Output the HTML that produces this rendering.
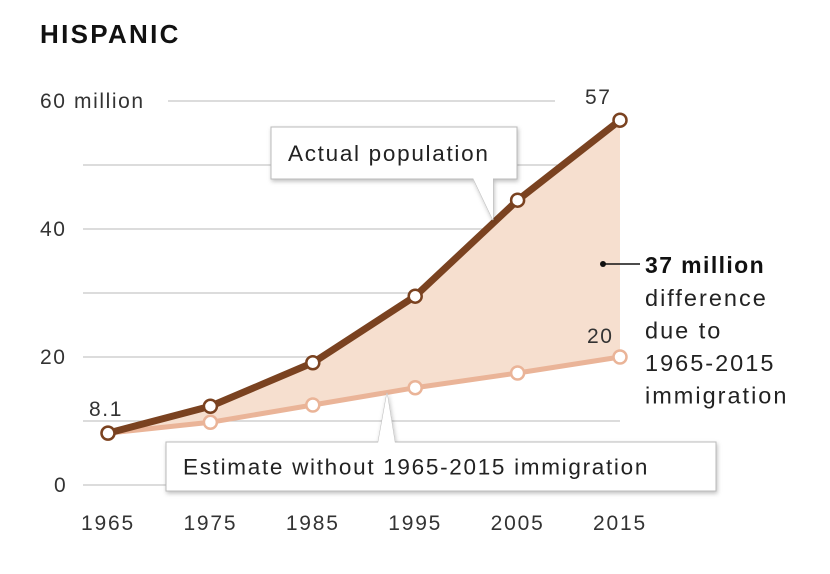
<!DOCTYPE html>
<html><head><meta charset="utf-8"><style>
body{margin:0;background:#fff;}
svg{display:block;font-family:"Liberation Sans",sans-serif;}
</style></head><body>
<svg id="chart" width="830" height="574" viewBox="0 0 830 574">
<defs><filter id="sh" x="-5%" y="-20%" width="110%" height="150%"><feDropShadow dx="1" dy="2" stdDeviation="2" flood-color="#000" flood-opacity="0.25"/></filter></defs>
<text x="40" y="43" font-size="26" font-weight="bold" letter-spacing="2.3" fill="#111">HISPANIC</text>
<g id="grid"></g>
<g id="area"></g>
<g id="lines"></g>
<g id="labels"></g>
</svg>
<script>
const years = [1965, 1975, 1985, 1995, 2005, 2015];
const actual = [8.1, 12.3, 19.1, 29.5, 44.5, 57];
const estimate = [8.1, 9.8, 12.5, 15.2, 17.5, 20];
const yTicks = [0, 10, 20, 30, 40, 50, 60];
const yTickLabels = ["0", "", "20", "", "40", "", "60 million"];
const NS = "http://www.w3.org/2000/svg";
const x = i => 108 + (620 - 108) * i / (years.length - 1);
const y = v => 485 - v * 6.4;
function mk(tag, attrs, parent, txt) {
  const e = document.createElementNS(NS, tag);
  for (const k in attrs) e.setAttribute(k, attrs[k]);
  if (txt !== undefined) e.textContent = txt;
  parent.appendChild(e); return e;
}
const grid = document.getElementById('grid');
yTicks.forEach((t, i) => {
  const x0 = t === 60 ? 168 : 83, x1 = t === 60 ? 555 : 620;
  const l = mk('line', {x1: x0, x2: x1, y1: y(t), y2: y(t), stroke: '#c8c8c8', 'stroke-width': 1.3}, grid);
  
  
  if (yTickLabels[i]) {
    const tx = mk('text', {x: t === 0 ? 54 : 40, y: y(t) + 7, 'font-size': 21, 'letter-spacing': 1.6, fill: '#333'}, grid, yTickLabels[i]);
    
    
  }
});
years.forEach((yr, i) => {
  const tx = mk('text', {x: x(i), y: 530, 'font-size': 21, 'letter-spacing': 1.8, fill: '#333', 'text-anchor': 'middle'}, grid, yr);
  
  
});
let d = actual.map((v, i) => (i ? 'L' : 'M') + x(i) + ',' + y(v)).join('');
for (let i = estimate.length - 1; i >= 0; i--) d += 'L' + x(i) + ',' + y(estimate[i]);
const ar = mk('path', {d: d + 'Z', fill: '#f6dfcf'}, document.getElementById('area'));


const lg = document.getElementById('lines');
function series(vals, color, w, name) {
  const p = mk('polyline', {points: vals.map((v, i) => x(i) + ',' + y(v)).join(' '), fill: 'none', stroke: color, 'stroke-width': w, 'stroke-linejoin': 'round'}, lg);
  
  
  vals.forEach((v, i) => {
    const c = mk('circle', {cx: x(i), cy: y(v), r: 6.5, fill: '#fff', stroke: color, 'stroke-width': 2.5}, lg);
    
    
  });
}
series(estimate, '#eab498', 5, 'estimate');
series(actual, '#7a4220', 7, 'actual');
const lb = document.getElementById('labels');
function txt(s, a, name) {
  const t = mk('text', Object.assign({'font-size': 21, 'letter-spacing': 1.6, fill: '#333'}, a), lb, s);
  
  
  return t;
}
txt('8.1', {x: 89, y: 416}, 'start-value-label');
txt(String(actual[actual.length - 1]), {x: 585, y: 104}, 'actual-end-label');
txt(String(estimate[estimate.length - 1]), {x: 587, y: 343}, 'estimate-end-label');
function callout(bx, by, bw, bh, tail, label, name) {
  const g = mk('g', {filter: 'url(#sh)'}, lb);
  
  
  mk('polygon', {points: tail, fill: '#fff', stroke: '#bbb', 'stroke-width': 1}, g);
  mk('rect', {x: bx, y: by, width: bw, height: bh, fill: '#fff', stroke: '#bbb', 'stroke-width': 1}, g);
  mk('polygon', {points: tail, fill: '#fff'}, lb);
  txt(label, {x: bx + 17, y: by + bh / 2 + 8, 'font-size': 22.5, 'letter-spacing': 1.7, fill: '#222'}, name + '-text');
}
callout(271, 127, 246, 52, '473,178 493,220 493,178', 'Actual population', 'actual-callout');
callout(166, 442, 550, 49, '378,443 387,393 395,443', 'Estimate without 1965-2015 immigration', 'estimate-callout');
mk('circle', {cx: 603, cy: 264, r: 3, fill: '#111'}, lb);
mk('line', {x1: 603, x2: 640, y1: 264, y2: 264, stroke: '#111', 'stroke-width': 1.5}, lb);
txt('37 million', {x: 645, y: 273, 'font-size': 23, 'letter-spacing': 1.4, 'font-weight': 'bold', fill: '#111'}, 'difference-value');
['difference', 'due to', '1965-2015', 'immigration'].forEach((s, i) =>
  txt(s, {x: 645, y: 306 + i * 32.5, 'font-size': 23.5, 'letter-spacing': 2, fill: '#222'}, 'difference-note'));
</script>
</body></html>
